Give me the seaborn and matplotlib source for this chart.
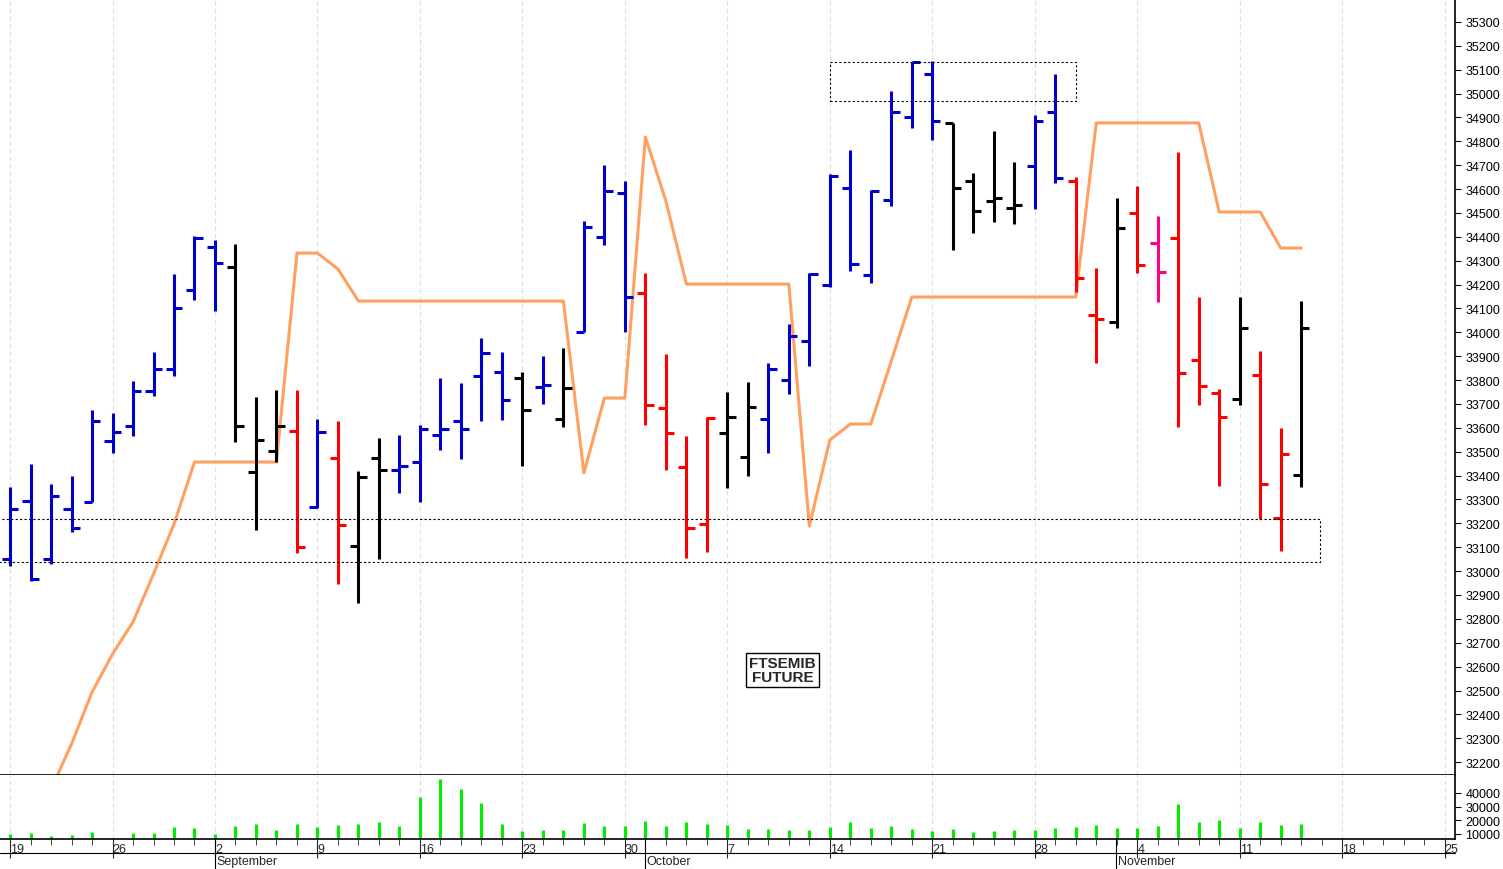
import numpy as np
import pandas as pd
import matplotlib
matplotlib.use("Agg")
import matplotlib.pyplot as plt
import seaborn as sns

# trading days 19 Aug 2024 -> 14 Nov 2024
dates = pd.bdate_range("2024-08-19", "2024-11-14")

high = [33351, 33448, 33365, 33397, 33676, 33661, 33795, 33919, 34243, 34405,
        34387, 34370, 33728, 33760, 33758, 33637, 33630, 33420, 33556, 33570,
        33613, 33810, 33787, 33975, 33916, 33833, 33902, 33933, 34468, 34701,
        34633, 34249, 33909, 33564, 33644, 33751, 33793, 33872, 34035, 34249,
        34663, 34765, 34598, 35012, 35134, 35138, 34877, 34667, 34845, 34712,
        34910, 35082, 34649, 34269, 34563, 34614, 34489, 34754, 34149, 33763,
        34147, 33923, 33598, 34133]
low = [33023, 32960, 33030, 33165, 33288, 33495, 33564, 33735, 33818, 34137,
       34091, 33539, 33172, 33457, 33076, 33263, 32946, 32866, 33050, 33327,
       33288, 33507, 33469, 33627, 33633, 33439, 33700, 33605, 34000, 34366,
       34003, 33613, 33423, 33053, 33081, 33347, 33399, 33493, 33742, 33860,
       34189, 34258, 34205, 34530, 34855, 34807, 34346, 34415, 34461, 34454,
       34517, 34626, 34168, 33872, 34018, 34249, 34126, 33602, 33696, 33358,
       33696, 33218, 33085, 33351]
open_ = [33050, 33295, 33050, 33260, 33288, 33546, 33606, 33756, 33846, 34177,
         34356, 34272, 33414, 33502, 33585, 33267, 33474, 33104, 33474, 33423,
         33458, 33571, 33627, 33816, 33835, 33809, 33770, 33637, 34000, 34398,
         34584, 34165, 33682, 33437, 33197, 33578, 33476, 33637, 33802, 33965,
         34198, 34603, 34240, 34556, 34901, 35082, 34877, 34633, 34549, 34520,
         34698, 34924, 34633, 34073, 34042, 34499, 34374, 34394, 33885, 33746,
         33721, 33821, 33222, 33402]
close = [33260, 32967, 33313, 33179, 33627, 33581, 33756, 33846, 34101, 34395,
         34289, 33606, 33549, 33606, 33100, 33581, 33194, 33393, 33423, 33441,
         33595, 33595, 33595, 33913, 33718, 33675, 33781, 33766, 34440, 34591,
         34149, 33697, 33578, 33179, 33641, 33644, 33686, 33846, 33986, 34244,
         34654, 34286, 34593, 34924, 35131, 34887, 34603, 34510, 34563, 34535,
         34887, 34645, 34226, 34056, 34436, 34283, 34251, 33830, 33776, 33644,
         34017, 33365, 33490, 34017]
bar_colors = (["#0000cc"] * 11 + ["black"] * 3 + ["red", "#0000cc", "red", "black", "black"]
              + ["#0000cc"] * 6 + ["black", "#0000cc", "black"] + ["#0000cc"] * 3
              + ["red"] * 4 + ["black"] * 2 + ["#0000cc"] * 9 + ["black"] * 4
              + ["#0000cc"] * 2 + ["red", "red", "black", "red", "#ff0080", "red", "red", "red",
                                   "black", "red", "red", "black"])

stop_line = ([31710, 31898, 32087, 32276, 32493, 32653, 32787, 32988, 33197]
             + [33457] * 5 + [34332, 34332, 34265] + [34131] * 11
             + [33411, 33725, 33725, 34818, 34550] + [34202] * 6
             + [33189, 33549, 33616, 33616, 33880] + [34148] * 9
             + [34877] * 6 + [34504] * 3 + [34353, 34353])

volume = [10000, 10700, 8800, 9300, 11700,
          7100, 10500, 10500, 14900, 14100,
          9750, 15600, 17300, 12700, 17300,
          14900, 16600, 17300, 18800, 15600,
          37000, 50000, 42800, 32400, 17300,
          12400, 12900, 12700, 18300, 15600,
          15900, 19500, 15600, 19000, 17300,
          16600, 13700, 13700, 12700, 12700,
          15100, 19000, 14100, 16100, 13700,
          12200, 13400, 11200, 12200, 12900,
          12700, 14100, 14900, 16600, 14100,
          14100, 16100, 31900, 18800, 20500,
          14100, 19000, 16600, 17300]

# support / resistance boxes: (start idx, end idx, low, high)
boxes = [(-1, 63.9, 33038, 33218), (40, 52, 34969, 35132)]

week_labels = ["19", "26", "2", "9", "16", "23", "30", "7", "14", "21", "28", "4", "11", "18", "25"]
week_pos = list(range(0, 75, 5))
months = [("September", 10), ("October", 31), ("November", 54)]

sns.set_style("white")
plt.rcParams["font.family"] = ["Liberation Sans", "DejaVu Sans"]

df = pd.DataFrame({"i": np.arange(len(dates)), "high": high, "low": low,
                   "open": open_, "close": close, "stop": stop_line,
                   "vol": volume, "color": bar_colors})

fig = plt.figure(figsize=(15.03, 8.70), dpi=100)
ax = fig.add_axes([0.0, 0.108, 0.968, 0.892])
axv = fig.add_axes([0.0, 0.0345, 0.968, 0.0735], sharex=ax)

for a in (ax, axv):
    for pos in week_pos:
        a.axvline(pos, color="#dddddd", lw=0.8, ls=(0, (4, 3)), zorder=0)

sns.lineplot(data=df, x="i", y="stop", ax=ax, color="#ffa060", lw=2.2, zorder=2)

ax.vlines(df["i"], df["low"], df["high"], colors=df["color"], lw=2.2, zorder=3)
ax.hlines(df["open"], df["i"] - 0.4, df["i"], colors=df["color"], lw=2.2, zorder=3)
ax.hlines(df["close"], df["i"], df["i"] + 0.4, colors=df["color"], lw=2.2, zorder=3)

for x0, x1, lo, hi in boxes:
    ax.plot([x0, x1, x1, x0, x0], [lo, lo, hi, hi, lo], color="black", lw=0.8,
            ls=(0, (2, 2)), zorder=4)

ax.text(37.7, 32585, "FTSEMIB\nFUTURE", ha="center", va="center", fontsize=11,
        fontweight="bold", linespacing=1.0,
        bbox=dict(boxstyle="square,pad=0.2", fc="white", ec="black", lw=1))

ax.set_xlim(-0.49, 70.5)
ax.set_ylim(32146, 35396)
ax.yaxis.tick_right()
ax.set_yticks(np.arange(32200, 35301, 100))
ax.tick_params(axis="y", labelsize=9, length=4, direction="out", right=True, colors="black")
ax.tick_params(axis="x", bottom=False, labelbottom=False)
ax.set_xlabel("")
ax.set_ylabel("")
for s in ["top", "left"]:
    ax.spines[s].set_visible(False)
for s in ["right", "bottom"]:
    ax.spines[s].set_color("black")
    ax.spines[s].set_linewidth(1.2)

axv.vlines(df["i"], 0, df["vol"], colors="#00ee00", lw=2.2)
axv.set_ylim(6350, 53000)
axv.yaxis.tick_right()
axv.set_yticks([10000, 20000, 30000, 40000])
axv.tick_params(axis="y", labelsize=9, length=4, right=True, colors="black")
axv.set_xticks(week_pos)
axv.set_xticklabels(week_labels, ha="left", fontsize=9)
axv.set_xticks(np.arange(0, 71), minor=True)
axv.tick_params(axis="x", which="major", length=14, direction="out", pad=-11, bottom=True)
axv.tick_params(axis="x", which="minor", length=4, direction="out", bottom=True)
for s in ["top", "left"]:
    axv.spines[s].set_visible(False)
for s in ["right", "bottom"]:
    axv.spines[s].set_color("black")
    axv.spines[s].set_linewidth(1.2)

# month labels with separators
for name, pos in months:
    fig.text((pos * 20.49 + 10) / 1503 + 0.001, 0.002, name, fontsize=9, ha="left", va="bottom")
    fig.add_artist(plt.Line2D([(pos * 20.49 + 10) / 1503] * 2, [0.0, 0.0345],
                              color="black", lw=0.8))
fig.add_artist(plt.Line2D([0, 0.968], [0.0185, 0.0185], color="black", lw=0.8))

fig.savefig("out.png", dpi=100)
